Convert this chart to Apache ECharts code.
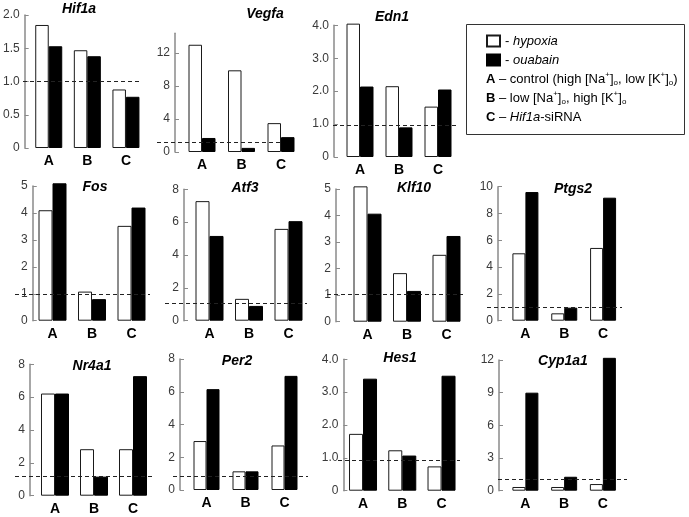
<!DOCTYPE html>
<html>
<head>
<meta charset="utf-8">
<script src="https://cdn.jsdelivr.net/npm/echarts@6/dist/echarts.min.js"></script>
<style>
html,body{margin:0;padding:0;background:#fff;}
#chart{width:689px;height:517px;}
</style>
</head>
<body>
<div id="chart"></div>
<script>
// ---- data ----
const categories = ['A', 'B', 'C'];
const genes = ['Hif1a', 'Vegfa', 'Edn1', 'Fos', 'Atf3', 'Klf10', 'Ptgs2', 'Nr4a1', 'Per2', 'Hes1', 'Cyp1a1'];

const hif1aHypoxia = [1.85, 1.47, 0.88];
const hif1aOuabain = [1.53, 1.38, 0.77];
const vegfaHypoxia = [13.0, 9.9, 3.5];
const vegfaOuabain = [1.7, 0.5, 1.8];
const edn1Hypoxia = [4.05, 2.15, 1.53];
const edn1Ouabain = [2.14, 0.9, 2.05];
const fosHypoxia = [4.1, 1.08, 3.52];
const fosOuabain = [5.1, 0.8, 4.2];
const atf3Hypoxia = [7.28, 1.33, 5.59];
const atf3Ouabain = [5.16, 0.9, 6.06];
const klf10Hypoxia = [5.1, 1.83, 2.52];
const klf10Ouabain = [4.07, 1.16, 3.23];
const ptgs2Hypoxia = [5.03, 0.55, 5.43];
const ptgs2Ouabain = [9.6, 0.97, 9.18];
const nr4a1Hypoxia = [6.22, 2.83, 2.83];
const nr4a1Ouabain = [6.22, 1.16, 7.28];
const per2Hypoxia = [2.99, 1.14, 2.72];
const per2Ouabain = [6.16, 1.14, 6.97];
const hes1Hypoxia = [1.73, 1.23, 0.74];
const hes1Ouabain = [3.41, 1.07, 3.5];
const cyp1a1Hypoxia = [0.34, 0.34, 0.61];
const cyp1a1Ouabain = [9.0, 1.28, 12.2];

const hypoxiaValues = [hif1aHypoxia, vegfaHypoxia, edn1Hypoxia, fosHypoxia, atf3Hypoxia, klf10Hypoxia, ptgs2Hypoxia, nr4a1Hypoxia, per2Hypoxia, hes1Hypoxia, cyp1a1Hypoxia];
const ouabainValues = [hif1aOuabain, vegfaOuabain, edn1Ouabain, fosOuabain, atf3Ouabain, klf10Ouabain, ptgs2Ouabain, nr4a1Ouabain, per2Ouabain, hes1Ouabain, cyp1a1Ouabain];

// axis ticks
const yMax = [2, 14.4, 4, 5, 8, 5, 10, 8, 8, 4, 12];
const yInterval = [0.5, 4, 1, 1, 2, 1, 2, 2, 2, 1, 3];
const yDecimals = [1, 0, 1, 0, 0, 0, 0, 0, 0, 1, 0];
// dashed reference level (control = 1)
const refLevel = [1.0, 1.2, 0.95, 1.0, 1.05, 1.03, 0.97, 1.18, 0.84, 0.93, 1.05];

// ---- layout (pixels) ----
const layout = [
  {l: 26.75, t: 15,    w: 118.5,  h: 133,   off: 4.75, d: [23, 140],  bw: 13.5, tx: 79,  ty: 9},
  {l: 182.25,t: 33.2,  w: 118.5,  h: 118.8, off: 7.25, d: [157, 283], bw: 13.5, tx: 265, ty: 14},
  {l: 340.5, t: 25.3,  w: 117,    h: 131.7, off: 6.5,  d: [333, 458], bw: 13.5, tx: 392, ty: 17},
  {l: 32.75, t: 186,   w: 118.5,  h: 134.7, off: 0,    d: [15, 150],  bw: 14,   tx: 95,  ty: 187},
  {l: 189.75,t: 189.3, w: 118.5,  h: 131.4, off: 5.75, d: [165, 307], bw: 14,   tx: 245, ty: 188},
  {l: 347.75,t: 189,   w: 118.5,  h: 132.7, off: 11.75,d: [327, 463], bw: 14,   tx: 414, ty: 188},
  {l: 506,   t: 186.7, w: 116.5,  h: 134,   off: 8,    d: [487, 622], bw: 13,   tx: 573, ty: 189},
  {l: 35.5,  t: 364.3, w: 117,    h: 131.4, off: 5.5,  d: [15, 152],  bw: 14,   tx: 92,  ty: 366},
  {l: 187,   t: 359,   w: 117,    h: 131,   off: 7,    d: [173, 308], bw: 13,   tx: 237, ty: 361},
  {l: 343.4, t: 359.3, w: 117.75, h: 131.4, off: 0,    d: [338, 460], bw: 14,   tx: 400, ty: 358},
  {l: 506,   t: 360,   w: 116.25, h: 130.7, off: 7,    d: [498, 627], bw: 13,   tx: 563, ty: 361}
];

const FONT = 'Arial, "Liberation Sans", Helvetica, sans-serif';
const grids = [], xAxes = [], yAxes = [], series = [], graphics = [];

genes.forEach((g, i) => {
  const L = layout[i];
  grids.push({left: L.l, top: L.t, width: L.w, height: L.h, containLabel: false});
  xAxes.push({
    type: 'category', gridIndex: i, data: categories,
    axisLine: {show: false}, axisTick: {show: false},
    axisLabel: {margin: 6, color: '#000', fontWeight: 'bold', fontSize: 14, fontFamily: FONT}
  });
  const dec = yDecimals[i];
  yAxes.push({
    type: 'value', gridIndex: i, min: 0, max: yMax[i], interval: yInterval[i], offset: L.off,
    splitLine: {show: false},
    axisLine: {show: true, lineStyle: {color: '#8a8a8a', width: 1.5}},
    axisTick: {show: true, inside: true, length: 4, lineStyle: {color: '#8a8a8a', width: 1}},
    axisLabel: {
      margin: 5, color: '#3a3a3a', fontSize: 12, fontFamily: FONT, showMaxLabel: yMax[i] % yInterval[i] === 0,
      formatter: v => v === 0 ? '0' : v.toFixed(dec)
    }
  });
  series.push({
    name: 'hypoxia', type: 'bar', xAxisIndex: i, yAxisIndex: i, data: hypoxiaValues[i],
    barWidth: L.bw, barGap: '0%', clip: false, silent: true,
    itemStyle: {color: '#ffffff', borderColor: '#1a1a1a', borderWidth: 1},
    markLine: {
      silent: true, symbol: 'none', label: {show: false},
      lineStyle: {type: [4, 3], color: '#222', width: 1},
      data: [[{x: L.d[0], yAxis: refLevel[i]}, {x: L.d[1], yAxis: refLevel[i]}]]
    },
    z: 2
  });
  series.push({
    name: 'ouabain', type: 'bar', xAxisIndex: i, yAxisIndex: i, data: ouabainValues[i],
    barWidth: L.bw, barGap: '0%', clip: false, silent: true,
    itemStyle: {color: '#000000', borderColor: '#000000', borderWidth: 1},
    z: 2
  });
  graphics.push({
    type: 'text', x: L.tx, y: L.ty, z: 10,
    style: {text: g, fill: '#000', font: 'italic bold 14px ' + FONT, textAlign: 'center', textVerticalAlign: 'middle'}
  });
});

// legend box & condition text
graphics.push({
  type: 'rect', shape: {x: 466.5, y: 24.5, width: 218, height: 110},
  style: {fill: 'none', stroke: '#333', lineWidth: 1}
});
const richStyles = {
  n: {fontSize: 13, fontFamily: FONT, fill: '#000', lineHeight: 16, verticalAlign: 'middle'},
  b: {fontSize: 13, fontFamily: FONT, fontWeight: 'bold', fill: '#000', lineHeight: 16},
  i: {fontSize: 13, fontFamily: FONT, fontStyle: 'italic', fill: '#000', lineHeight: 16},
  sup: {fontSize: 8, fontFamily: FONT, fill: '#000', lineHeight: 16, verticalAlign: 'top'},
  sub: {fontSize: 8, fontFamily: FONT, fill: '#000', lineHeight: 16, verticalAlign: 'bottom'}
};
const condLines = [
  '{b|A} {n|– control (high [Na}{sup|+}{n|]}{sub|o}{n|, low [K}{sup|+}{n|]}{sub|o}{n|)}',
  '{b|B} {n|– low [Na}{sup|+}{n|]}{sub|o}{n|, high [K}{sup|+}{n|]}{sub|o}',
  '{b|C} {n|– }{i|Hif1a}{n|-siRNA}'
];
const condY = [79, 98, 117];
condLines.forEach((t, k) => {
  graphics.push({
    type: 'text', x: 486, y: condY[k], z: 10,
    style: {text: t, rich: richStyles, textVerticalAlign: 'middle', font: '13px ' + FONT}
  });
});

const chart = echarts.init(document.getElementById('chart'), null, {renderer: 'canvas'});
chart.setOption({
  animation: false,
  backgroundColor: '#fff',
  grid: grids,
  xAxis: xAxes,
  yAxis: yAxes,
  series: series,
  legend: {
    data: ['hypoxia', 'ouabain'], orient: 'vertical', left: 486, top: 34, padding: 0,
    itemWidth: 13, itemHeight: 11, itemGap: 5, icon: 'rect', selectedMode: false,
    formatter: name => '{d|- }{it|' + name + '}',
    textStyle: {
      lineHeight: 14,
      rich: {
        d: {fontSize: 13, fontFamily: FONT, color: '#000', lineHeight: 14},
        it: {fontSize: 13, fontFamily: FONT, fontStyle: 'italic', color: '#000', lineHeight: 14}
      }
    }
  },
  graphic: graphics
});
</script>
</body>
</html>
